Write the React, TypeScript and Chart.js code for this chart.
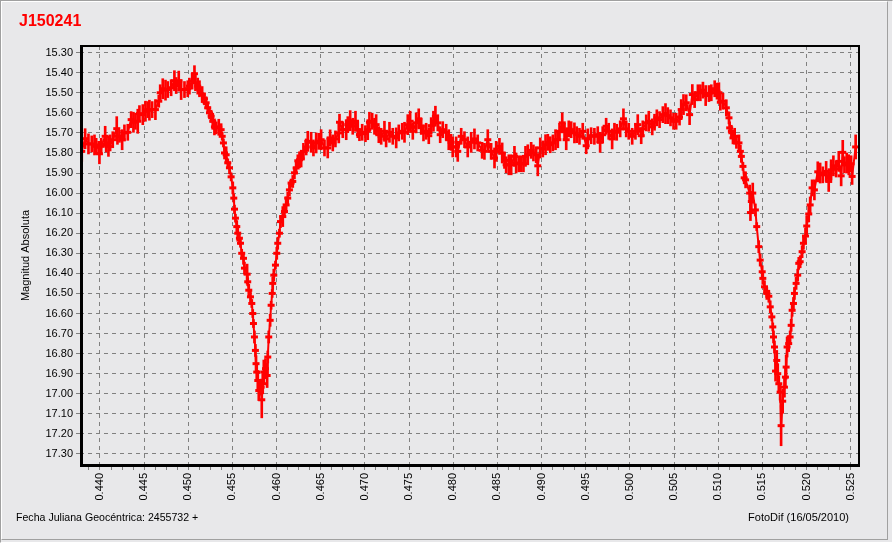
import React, { useEffect, useRef } from 'react';
import { Chart, registerables } from 'chart.js';

Chart.register(...registerables);

const TITLE = 'J150241';
const Y_TITLE = 'Magnitud Absoluta';
const FOOT_LEFT = 'Fecha Juliana Geocéntrica: 2455732 +';
const FOOT_RIGHT = 'FotoDif (16/05/2010)';

const X_MIN = 0.43774;
const X_MAX = 0.52594;
const X_MAJOR = 0.005;
const X_MINOR = 0.00125;
const Y_MIN = 15.267;
const Y_MAX = 17.355;
const Y_STEP = 0.1;

// Julian date fraction (2455732 + ...)
const jd = [
  0.43794, 0.43832, 0.43870, 0.43907, 0.43938, 0.43957, 0.43986, 0.43994, 0.44014, 0.44059,
  0.44070, 0.44096, 0.44115, 0.44145, 0.44190, 0.44198, 0.44221, 0.44251, 0.44277, 0.44315,
  0.44353, 0.44379, 0.44402, 0.44428, 0.44447, 0.44485, 0.44515, 0.44541, 0.44560, 0.44591,
  0.44628, 0.44666, 0.44682, 0.44711, 0.44742, 0.44768, 0.44806, 0.44843, 0.44863, 0.44892,
  0.44919, 0.44957, 0.44994, 0.45013, 0.45044, 0.45070, 0.45081, 0.45107, 0.45127, 0.45157,
  0.45183, 0.45202, 0.45220, 0.45240, 0.45259, 0.45277, 0.45296, 0.45316, 0.45345, 0.45372,
  0.45384, 0.45398, 0.45410, 0.45429, 0.45447, 0.45466, 0.45485, 0.45504, 0.45515, 0.45523,
  0.45534, 0.45549, 0.45560, 0.45579, 0.45591, 0.45605, 0.45625, 0.45636, 0.45666, 0.45673,
  0.45685, 0.45704, 0.45719, 0.45730, 0.45738, 0.45749, 0.45760, 0.45767, 0.45775, 0.45787,
  0.45798, 0.45825, 0.45832, 0.45843, 0.45855, 0.45874, 0.45893, 0.45900, 0.45911, 0.45927,
  0.45938, 0.45950, 0.45956, 0.45968, 0.45987, 0.46002, 0.46013, 0.46032, 0.46044, 0.46070,
  0.46089, 0.46108, 0.46126, 0.46145, 0.46164, 0.46183, 0.46202, 0.46221, 0.46240, 0.46259,
  0.46278, 0.46304, 0.46335, 0.46353, 0.46391, 0.46417, 0.46448, 0.46477, 0.46504, 0.46542,
  0.46579, 0.46606, 0.46636, 0.46666, 0.46704, 0.46712, 0.46749, 0.46788, 0.46806, 0.46833,
  0.46862, 0.46893, 0.46919, 0.46938, 0.46969, 0.47006, 0.47032, 0.47051, 0.47082, 0.47108,
  0.47127, 0.47157, 0.47184, 0.47221, 0.47240, 0.47278, 0.47315, 0.47354, 0.47383, 0.47422,
  0.47448, 0.47485, 0.47512, 0.47542, 0.47580, 0.47609, 0.47637, 0.47663, 0.47693, 0.47723,
  0.47750, 0.47776, 0.47798, 0.47825, 0.47852, 0.47881, 0.47920, 0.47949, 0.47976, 0.47994,
  0.48033, 0.48051, 0.48090, 0.48127, 0.48164, 0.48203, 0.48240, 0.48277, 0.48327, 0.48353,
  0.48391, 0.48429, 0.48467, 0.48486, 0.48523, 0.48554, 0.48580, 0.48599, 0.48629, 0.48656,
  0.48693, 0.48712, 0.48742, 0.48769, 0.48795, 0.48818, 0.48844, 0.48882, 0.48908, 0.48939,
  0.48957, 0.48985, 0.49014, 0.49045, 0.49071, 0.49098, 0.49128, 0.49158, 0.49184, 0.49203,
  0.49234, 0.49260, 0.49279, 0.49308, 0.49335, 0.49372, 0.49398, 0.49429, 0.49466, 0.49505,
  0.49523, 0.49561, 0.49598, 0.49636, 0.49663, 0.49692, 0.49731, 0.49760, 0.49799, 0.49825,
  0.49851, 0.49890, 0.49927, 0.49958, 0.49987, 0.50026, 0.50063, 0.50089, 0.50128, 0.50146,
  0.50185, 0.50214, 0.50253, 0.50279, 0.50305, 0.50336, 0.50373, 0.50403, 0.50429, 0.50460,
  0.50494, 0.50524, 0.50562, 0.50581, 0.50607, 0.50638, 0.50676, 0.50707, 0.50733, 0.50770,
  0.50798, 0.50827, 0.50858, 0.50895, 0.50922, 0.50960, 0.50986, 0.51008, 0.51024, 0.51054,
  0.51092, 0.51122, 0.51130, 0.51149, 0.51167, 0.51186, 0.51206, 0.51235, 0.51251, 0.51262,
  0.51280, 0.51294, 0.51310, 0.51356, 0.51365, 0.51375, 0.51391, 0.51421, 0.51436, 0.51459,
  0.51475, 0.51498, 0.51505, 0.51524, 0.51550, 0.51573, 0.51589, 0.51607, 0.51618, 0.51626,
  0.51637, 0.51649, 0.51663, 0.51674, 0.51686, 0.51701, 0.51712, 0.51730, 0.51750, 0.51761,
  0.51769, 0.51780, 0.51798, 0.51814, 0.51826, 0.51837, 0.51852, 0.51863, 0.51882, 0.51900,
  0.51912, 0.51928, 0.51950, 0.51965, 0.51988, 0.52002, 0.52025, 0.52041, 0.52063, 0.52089,
  0.52127, 0.52154, 0.52184, 0.52222, 0.52251, 0.52278, 0.52304, 0.52335, 0.52365, 0.52392,
  0.52410, 0.52429, 0.52455, 0.52478, 0.52505, 0.52516, 0.52556,
];

// Absolute magnitude
const mag = [
  15.792, 15.729, 15.755, 15.755, 15.760, 15.767, 15.772, 15.804, 15.767, 15.717,
  15.755, 15.767, 15.750, 15.734, 15.679, 15.717, 15.717, 15.734, 15.700, 15.697,
  15.634, 15.647, 15.642, 15.642, 15.604, 15.609, 15.592, 15.584, 15.587, 15.584,
  15.584, 15.542, 15.500, 15.480, 15.487, 15.484, 15.475, 15.440, 15.464, 15.442,
  15.484, 15.484, 15.480, 15.467, 15.442, 15.405, 15.450, 15.467, 15.480, 15.509,
  15.530, 15.550, 15.575, 15.600, 15.617, 15.642, 15.670, 15.675, 15.672, 15.684,
  15.717, 15.750, 15.800, 15.809, 15.849, 15.874, 15.919, 15.974, 16.025, 16.080,
  16.125, 16.167, 16.200, 16.225, 16.250, 16.300, 16.325, 16.374, 16.404, 16.442,
  16.484, 16.517, 16.550, 16.600, 16.650, 16.717, 16.784, 16.850, 16.892, 16.934,
  16.984, 16.967, 17.030, 16.950, 16.892, 16.875, 16.909, 16.817, 16.717, 16.634,
  16.559, 16.500, 16.450, 16.409, 16.359, 16.300, 16.250, 16.200, 16.142, 16.117,
  16.092, 16.059, 16.025, 15.984, 15.950, 15.942, 15.899, 15.875, 15.839, 15.834,
  15.830, 15.792, 15.770, 15.742, 15.747, 15.775, 15.750, 15.742, 15.734, 15.775,
  15.775, 15.725, 15.750, 15.730, 15.700, 15.647, 15.684, 15.684, 15.659, 15.639,
  15.667, 15.642, 15.684, 15.709, 15.697, 15.704, 15.684, 15.647, 15.642, 15.667,
  15.659, 15.709, 15.717, 15.692, 15.730, 15.697, 15.717, 15.725, 15.700, 15.692,
  15.697, 15.659, 15.642, 15.692, 15.650, 15.630, 15.667, 15.700, 15.692, 15.714,
  15.664, 15.642, 15.617, 15.650, 15.709, 15.684, 15.697, 15.734, 15.747, 15.770,
  15.770, 15.792, 15.717, 15.734, 15.770, 15.747, 15.730, 15.750, 15.787, 15.792,
  15.734, 15.792, 15.825, 15.792, 15.767, 15.800, 15.837, 15.859, 15.859, 15.859,
  15.817, 15.850, 15.854, 15.854, 15.854, 15.817, 15.809, 15.787, 15.800, 15.809,
  15.864, 15.775, 15.780, 15.759, 15.747, 15.759, 15.750, 15.734, 15.734, 15.692,
  15.650, 15.692, 15.734, 15.680, 15.684, 15.700, 15.709, 15.717, 15.692, 15.764,
  15.730, 15.714, 15.717, 15.709, 15.747, 15.709, 15.667, 15.692, 15.730, 15.692,
  15.697, 15.680, 15.630, 15.680, 15.692, 15.717, 15.692, 15.659, 15.714, 15.680,
  15.650, 15.642, 15.670, 15.647, 15.625, 15.634, 15.609, 15.604, 15.614, 15.625,
  15.642, 15.642, 15.621, 15.584, 15.559, 15.550, 15.609, 15.509, 15.534, 15.500,
  15.500, 15.487, 15.514, 15.504, 15.500, 15.480, 15.492, 15.500, 15.547, 15.542,
  15.575, 15.625, 15.675, 15.692, 15.725, 15.717, 15.747, 15.750, 15.792, 15.817,
  15.867, 15.924, 15.934, 16.000, 16.097, 16.042, 16.000, 16.084, 16.167, 16.267,
  16.334, 16.392, 16.425, 16.467, 16.500, 16.514, 16.567, 16.617, 16.667, 16.717,
  16.767, 16.887, 16.834, 16.900, 16.950, 16.992, 17.159, 17.037, 16.967, 16.917,
  16.867, 16.767, 16.750, 16.717, 16.659, 16.584, 16.550, 16.500, 16.450, 16.409,
  16.350, 16.342, 16.292, 16.250, 16.214, 16.164, 16.104, 16.059, 15.974, 15.984,
  15.894, 15.900, 15.909, 15.892, 15.942, 15.884, 15.864, 15.880, 15.842, 15.914,
  15.797, 15.859, 15.850, 15.859, 15.854, 15.917, 15.770,
];

// Half-length of each error bar (magnitudes)
const err = [
  0.05, 0.05, 0.05, 0.04, 0.05, 0.04, 0.03, 0.05, 0.04, 0.05,
  0.04, 0.05, 0.04, 0.04, 0.06, 0.04, 0.03, 0.05, 0.04, 0.04,
  0.04, 0.05, 0.04, 0.06, 0.04, 0.05, 0.05, 0.04, 0.05, 0.04,
  0.05, 0.03, 0.04, 0.05, 0.05, 0.04, 0.04, 0.05, 0.04, 0.05,
  0.05, 0.04, 0.04, 0.04, 0.04, 0.04, 0.04, 0.04, 0.04, 0.04,
  0.03, 0.03, 0.02, 0.03, 0.03, 0.04, 0.04, 0.03, 0.04, 0.03,
  0.02, 0.02, 0.03, 0.04, 0.02, 0.03, 0.02, 0.03, 0.02, 0.02,
  0.02, 0.03, 0.04, 0.03, 0.02, 0.02, 0.03, 0.03, 0.05, 0.02,
  0.03, 0.03, 0.02, 0.02, 0.02, 0.03, 0.03, 0.04, 0.04, 0.05,
  0.05, 0.04, 0.09, 0.05, 0.06, 0.05, 0.06, 0.03, 0.03, 0.03,
  0.02, 0.02, 0.03, 0.03, 0.02, 0.03, 0.03, 0.02, 0.03, 0.05,
  0.03, 0.04, 0.03, 0.03, 0.02, 0.03, 0.03, 0.03, 0.03, 0.04,
  0.04, 0.04, 0.04, 0.05, 0.05, 0.04, 0.05, 0.04, 0.05, 0.04,
  0.05, 0.04, 0.04, 0.04, 0.05, 0.04, 0.04, 0.05, 0.04, 0.05,
  0.04, 0.05, 0.04, 0.03, 0.04, 0.04, 0.05, 0.05, 0.04, 0.04,
  0.05, 0.04, 0.04, 0.05, 0.04, 0.05, 0.04, 0.05, 0.04, 0.04,
  0.05, 0.05, 0.05, 0.04, 0.05, 0.05, 0.04, 0.04, 0.04, 0.04,
  0.04, 0.05, 0.05, 0.04, 0.04, 0.04, 0.04, 0.05, 0.04, 0.05,
  0.05, 0.05, 0.04, 0.04, 0.05, 0.05, 0.05, 0.04, 0.04, 0.04,
  0.05, 0.04, 0.05, 0.05, 0.04, 0.05, 0.04, 0.04, 0.05, 0.05,
  0.05, 0.05, 0.04, 0.04, 0.04, 0.05, 0.05, 0.04, 0.04, 0.04,
  0.05, 0.05, 0.04, 0.05, 0.04, 0.04, 0.04, 0.05, 0.04, 0.04,
  0.05, 0.04, 0.05, 0.04, 0.04, 0.05, 0.04, 0.04, 0.04, 0.04,
  0.05, 0.04, 0.04, 0.04, 0.05, 0.04, 0.04, 0.04, 0.05, 0.04,
  0.04, 0.04, 0.05, 0.04, 0.04, 0.04, 0.04, 0.05, 0.04, 0.04,
  0.04, 0.05, 0.04, 0.04, 0.04, 0.04, 0.04, 0.05, 0.04, 0.04,
  0.04, 0.04, 0.04, 0.05, 0.05, 0.04, 0.05, 0.05, 0.04, 0.04,
  0.04, 0.04, 0.05, 0.04, 0.04, 0.04, 0.04, 0.05, 0.04, 0.04,
  0.04, 0.03, 0.03, 0.03, 0.03, 0.04, 0.03, 0.04, 0.03, 0.03,
  0.02, 0.03, 0.04, 0.04, 0.04, 0.05, 0.05, 0.03, 0.02, 0.03,
  0.03, 0.03, 0.03, 0.03, 0.03, 0.03, 0.03, 0.02, 0.02, 0.03,
  0.03, 0.05, 0.05, 0.05, 0.04, 0.04, 0.10, 0.06, 0.05, 0.05,
  0.06, 0.05, 0.04, 0.03, 0.03, 0.03, 0.03, 0.03, 0.03, 0.03,
  0.03, 0.03, 0.03, 0.03, 0.04, 0.05, 0.04, 0.04, 0.04, 0.05,
  0.05, 0.05, 0.04, 0.05, 0.05, 0.05, 0.05, 0.04, 0.05, 0.05,
  0.06, 0.04, 0.05, 0.05, 0.04, 0.04, 0.06,
];

const RED = '#ff0000';
const GRID = '#808080';
const BG = '#e8e8ea';
const FONT = '"Liberation Sans", Arial, sans-serif';

const isMajorX = (v: number) => Math.abs(v / X_MAJOR - Math.round(v / X_MAJOR)) < 1e-4;

const framePlugin = {
  id: 'plotFrame',
  afterDatasetsDraw(chart: any) {
    const { ctx, chartArea: a } = chart;
    ctx.save();
    ctx.strokeStyle = '#000000';
    ctx.lineWidth = 2;
    ctx.strokeRect(a.left + 1, a.top, a.right - a.left - 1, a.bottom - a.top);
    ctx.lineWidth = 1;
    ctx.beginPath();
    ctx.moveTo(a.left + 2.5, a.top);
    ctx.lineTo(a.left + 2.5, a.bottom + 1);
    ctx.moveTo(a.left, a.bottom + 1.5);
    ctx.lineTo(a.right + 1, a.bottom + 1.5);
    ctx.stroke();
    ctx.restore();
  },
};

export default function App() {
  const canvasRef = useRef<HTMLCanvasElement | null>(null);

  useEffect(() => {
    const canvas = canvasRef.current;
    if (!canvas) return;
    const points = jd.map((x, i) => ({ x, y: mag[i] }));
    const bars = jd.map((x, i) => ({ x, y: [mag[i] - err[i], mag[i] + err[i]] }));

    const chart = new Chart(canvas, {
      type: 'line',
      data: {
        datasets: [
          {
            type: 'bar',
            data: bars as any,
            backgroundColor: RED,
            borderWidth: 0,
            barThickness: 2,
            grouped: false,
            order: 2,
          } as any,
          {
            type: 'line',
            data: points,
            borderColor: RED,
            borderWidth: 2,
            pointStyle: 'line',
            pointRadius: 3.5,
            pointBorderWidth: 3,
            pointBorderColor: RED,
            pointBackgroundColor: RED,
            tension: 0,
            order: 1,
          } as any,
        ],
      },
      options: {
        responsive: false,
        animation: false,
        events: [],
        layout: { padding: { left: 19, right: 34, top: 12, bottom: 0 } },
        plugins: {
          legend: { display: false },
          tooltip: { enabled: false },
          title: {
            display: true,
            text: TITLE,
            align: 'start',
            color: RED,
            font: { family: FONT, size: 16, weight: 'bold' },
            padding: { top: 0, bottom: 14.8 },
          },
        },
        scales: {
          x: {
            type: 'linear',
            position: 'bottom',
            offset: false,
            min: X_MIN,
            max: X_MAX,
            afterFit: (scale: any) => {
              scale.height = 78;
            },
            border: { display: false, dash: [4, 4] },
            grid: {
              offset: false,
              color: (ctx: any) => (ctx.tick && isMajorX(ctx.tick.value) ? GRID : 'rgba(0,0,0,0)'),
              tickColor: GRID,
              lineWidth: 1,
              tickLength: 5,
            },
            ticks: {
              stepSize: X_MINOR,
              includeBounds: false,
              autoSkip: false,
              minRotation: 90,
              maxRotation: 90,
              padding: 3,
              color: '#000000',
              font: { family: FONT, size: 11 },
              callback: (v: any) => (isMajorX(Number(v)) ? Number(v).toFixed(3) : ''),
            },
          },
          y: {
            type: 'linear',
            position: 'left',
            reverse: true,
            offset: false,
            beginAtZero: false,
            min: Y_MIN,
            max: Y_MAX,
            afterFit: (scale: any) => {
              scale.width = 61;
            },
            border: { display: false, dash: [4, 4] },
            grid: {
              color: GRID,
              tickColor: GRID,
              lineWidth: 1,
              tickLength: 4,
            },
            title: {
              display: true,
              text: Y_TITLE,
              color: '#000000',
              font: { family: FONT, size: 11 },
              padding: 0,
            },
            ticks: {
              stepSize: Y_STEP,
              includeBounds: false,
              autoSkip: false,
              padding: 3,
              color: '#000000',
              font: { family: FONT, size: 11 },
              callback: (v: any) => Number(v).toFixed(2),
            },
          },
        },
      } as any,
      plugins: [framePlugin],
    });
    return () => chart.destroy();
  }, []);

  return (
    <div
      style={{
        position: 'absolute',
        left: 0,
        top: 0,
        width: 893,
        height: 543,
        background: BG,
        overflow: 'hidden',
        fontFamily: FONT,
      }}
    >
      <div
        style={{
          position: 'absolute',
          left: 0,
          top: 0,
          width: 891,
          height: 541,
          borderLeft: '1px solid #a0a0a0',
          borderTop: '1px solid #a0a0a0',
          borderRight: '1px solid #ffffff',
          borderBottom: '1px solid #ffffff',
        }}
      />
      <div
        style={{
          position: 'absolute',
          left: 1,
          top: 1,
          width: 885,
          height: 537,
          borderLeft: '1px solid #ffffff',
          borderTop: '1px solid #ffffff',
          borderRight: '1px solid #a0a0a0',
          borderBottom: '1px solid #a0a0a0',
        }}
      />
      <canvas ref={canvasRef} width={893} height={543} style={{ position: 'absolute', left: 0, top: 0 }} />
      <div style={{ position: 'absolute', left: 16, top: 511, fontSize: 10.6, color: '#000', whiteSpace: 'nowrap' }}>
        {FOOT_LEFT}
      </div>
      <div style={{ position: 'absolute', right: 44, top: 511, fontSize: 11, color: '#000', whiteSpace: 'nowrap' }}>
        {FOOT_RIGHT}
      </div>
    </div>
  );
}
